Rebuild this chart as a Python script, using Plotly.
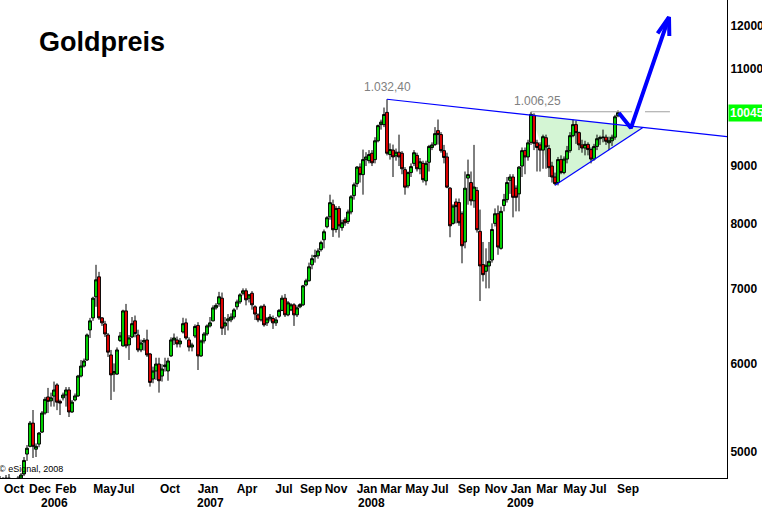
import numpy as np
import plotly.graph_objects as go

# Weekly gold candles (price in 1/10 USD, as on the chart axis), Sep 2005 - Sep 2009
opens = [4720, 4690, 4700, 4740, 4700, 4620, 4680, 4740, 4780, 4980,
         5060, 5307, 5030, 5083, 5210, 5418, 5600, 5555, 5610, 5740,
         5550, 5590, 5623, 5681, 5430, 5565, 5612, 5846, 5967, 6042,
         6427, 6588, 6880, 7168, 6588, 6507, 6361, 6105, 5870, 5870,
         6290, 6220, 6683, 6232, 6335, 6548, 6361, 6168, 6270, 6296,
         6117, 5810, 5907, 5992, 5846, 5960, 5907, 6093, 6296, 6296,
         6245, 6400, 6521, 6296, 6205, 6347, 6487, 6093, 6283, 6374,
         6480, 6548, 6725, 6780, 6860, 6480, 6548, 6561, 6600, 6740,
         6808, 6930, 6965, 6860, 6930, 6740, 6629, 6561, 6750, 6521,
         6575, 6580, 6521, 6610, 6690, 6860, 6629, 6697, 6767, 6629,
         6740, 6767, 7050, 7110, 7347, 7470, 7485, 7580, 7735, 7945,
         8110, 8313, 7900, 8250, 7930, 8060, 8030, 8190, 8470, 8680,
         8981, 8843, 9120, 9100, 9240, 9120, 9480, 9800, 9800, 10050,
         9215, 9300, 9190, 9260, 9240, 8934, 8640, 8880, 9050, 9200,
         8950, 9050, 8730, 9070, 9350, 9406, 9680, 9602, 9290, 9170,
         8600, 8000, 8360, 8350, 8160, 7700, 8780, 8700, 8380, 8560,
         7870, 7350, 7250, 7330, 7420, 8000, 8160, 7600, 8300, 8400,
         8740, 8800, 8600, 8500, 9000, 9290, 9170, 9450, 9990, 9440,
         9400, 9300, 9540, 9330, 9000, 8800, 8700, 9120, 8880, 9130,
         9290, 9580, 9800, 9640, 9400, 9340, 9410, 9310, 9130, 9370,
         9520, 9540, 9550, 9440, 9480, 9550, 9980]
highs = [4760, 4750, 4770, 4780, 4740, 4700, 4760, 4790, 4950, 5073,
         5330, 5452, 5090, 5210, 5440, 5600, 5705, 5650, 5780, 5760,
         5570, 5650, 5715, 5715, 5565, 5640, 5860, 6042, 6060, 6380,
         6588, 6880, 7347, 7242, 6600, 6548, 6387, 6168, 6000, 6200,
         6400, 6700, 6780, 6360, 6600, 6620, 6430, 6300, 6320, 6430,
         6130, 5960, 6070, 6070, 5990, 6070, 6070, 6330, 6380, 6340,
         6320, 6590, 6580, 6330, 6260, 6500, 6530, 6300, 6400, 6500,
         6600, 6760, 6790, 6950, 6940, 6600, 6640, 6650, 6720, 6840,
         6930, 7000, 7000, 6920, 6960, 6760, 6650, 6760, 6780, 6600,
         6640, 6620, 6600, 6710, 6900, 6920, 6820, 6790, 6790, 6760,
         6790, 7050, 7140, 7380, 7500, 7580, 7600, 7720, 7900, 8120,
         8486, 8400, 8290, 8290, 8060, 8100, 8230, 8480, 8700, 9000,
         9050, 9310, 9260, 9300, 9300, 9550, 9800, 9900, 10150, 10324,
         9430, 9406, 9330, 9600, 9280, 8980, 8900, 9050, 9300, 9250,
         9150, 9100, 9100, 9400, 9450, 9750, 9903, 9650, 9400, 9250,
         8620, 8320, 8420, 8420, 8200, 8900, 9120, 8900, 9400, 8620,
         8230, 7700, 7600, 7700, 8000, 8250, 8300, 8280, 8500, 8800,
         8850, 8850, 8650, 9000, 9350, 9350, 9500, 10062.5, 10030, 9500,
         9450, 9600, 9600, 9400, 9080, 8880, 9170, 9200, 9180, 9380,
         9650, 9900, 9880, 9660, 9500, 9480, 9450, 9350, 9420, 9600,
         9580, 9700, 9600, 9560, 9600, 10000, 10090]
lows = [4660, 4640, 4680, 4680, 4600, 4580, 4660, 4700, 4760, 4910,
        5050, 4940, 4950, 5050, 5200, 5400, 5418, 5490, 5490, 5450,
        5396, 5560, 5490, 5374, 5420, 5550, 5600, 5830, 5950, 6030,
        6322, 6548, 6740, 6561, 6480, 6335, 6080, 5565, 5660, 5860,
        6270, 6210, 6190, 6042, 6320, 6330, 6140, 6140, 6160, 6080,
        5720, 5760, 5800, 5650, 5780, 5900, 5790, 6080, 6230, 6200,
        6200, 6380, 6300, 6150, 6150, 6320, 5919, 6080, 6250, 6350,
        6460, 6540, 6700, 6740, 6361, 6361, 6420, 6530, 6570, 6700,
        6780, 6900, 6760, 6800, 6700, 6560, 6530, 6540, 6470, 6480,
        6540, 6440, 6480, 6590, 6680, 6600, 6610, 6680, 6480, 6600,
        6720, 6750, 7030, 7100, 7280, 7380, 7440, 7550, 7600, 7920,
        8060, 7780, 7850, 7770, 7880, 7960, 7990, 8150, 8400, 8620,
        8700, 8486, 9000, 9050, 9000, 9050, 9450, 9700, 9750, 9200,
        9120, 8800, 9100, 9000, 8850, 8486, 8600, 8800, 9000, 8900,
        8850, 8700, 8650, 8900, 9300, 9380, 9406, 9250, 9050, 8600,
        7775, 7980, 8000, 7960, 7370, 7600, 8313, 8300, 8260, 7850,
        6820, 7100, 7000, 7000, 7380, 7950, 7500, 7580, 8200, 8350,
        8500, 8100, 8200, 8200, 8800, 8850, 9100, 9400, 9300, 8900,
        8900, 8950, 8950, 8800, 8700, 8650, 8650, 8850, 8850, 9050,
        9250, 9550, 9420, 9300, 9250, 9200, 9200, 9050, 9100, 9300,
        9400, 9450, 9400, 9300, 9380, 9500, 9950]
closes = [4690, 4700, 4740, 4700, 4620, 4680, 4740, 4770, 4915, 5040,
          5307, 5060, 5060, 5200, 5418, 5573, 5550, 5590, 5681, 5540,
          5530, 5623, 5681, 5430, 5541, 5612, 5846, 5967, 6030, 6361,
          6548, 6860, 7124, 6588, 6521, 6374, 6140, 5860, 5900, 6168,
          6348, 6683, 6220, 6322, 6510, 6380, 6168, 6257, 6290, 6105,
          5770, 5907, 5992, 5790, 5931, 5980, 6030, 6296, 6322, 6245,
          6283, 6510, 6322, 6205, 6232, 6473, 6093, 6283, 6374, 6480,
          6521, 6725, 6760, 6880, 6450, 6521, 6575, 6600, 6697, 6808,
          6907, 6965, 6837, 6907, 6767, 6640, 6561, 6740, 6494, 6575,
          6600, 6521, 6561, 6690, 6860, 6629, 6795, 6767, 6629, 6725,
          6770, 7036, 7110, 7317, 7440, 7485, 7560, 7690, 7864, 8094,
          8348, 7896, 8250, 7960, 8010, 8010, 8190, 8450, 8662, 8981,
          8843, 9120, 9170, 9215, 9060, 9480, 9780, 9850, 10006, 9240,
          9310, 9170, 9260, 9170, 8950, 8618, 8880, 8990, 9250, 8950,
          9080, 8752, 9050, 9370, 9400, 9620, 9602, 9290, 9160, 8618,
          7960, 8290, 8280, 8010, 7640, 8600, 8843, 8380, 8620, 7896,
          7330, 7200, 7340, 7400, 7900, 8160, 7620, 8200, 8400, 8700,
          8800, 8440, 8440, 8980, 9290, 9170, 9440, 10010, 9430, 9350,
          9300, 9560, 9360, 8970, 8800, 8680, 9120, 8880, 9130, 9290,
          9580, 9800, 9640, 9400, 9340, 9410, 9310, 9130, 9370, 9520,
          9540, 9550, 9470, 9480, 9550, 9960, 10045]
weeks = list(range(len(opens)))

# Axis labels
month_labels = ["Oct", "Dec", "Feb", "May", "Jul", "Oct", "Jan", "Apr", "Jul", "Sep", "Nov",
                "Jan", "Mar", "May", "Jul", "Sep", "Nov", "Jan", "Mar", "May", "Jul", "Sep"]
month_label_weeks = [4.67, 13.33, 22.0, 35.0, 42.0, 56.67, 69.33, 82.33, 94.67, 103.67, 112.0,
                     122.33, 130.33, 139.0, 146.67, 156.33, 165.33, 173.67, 182.33, 191.67, 199.33, 209.33]
year_labels = ["2006", "2007", "2008", "2009"]
year_label_weeks = [18.33, 70.0, 123.67, 173.33]
price_ticks = [5000, 6000, 7000, 8000, 9000, 11000, 12000]
last_price = 10045

# Chart-analysis drawings (week index, price)
peak_2008 = (129, 10324.0)       # 1.032,40
peak_2009 = (177, 10062.5)       # 1.006,25
resistance_end = (242.33, 9560.0)
support_low = (185, 8650.0)
apex_week = 214.3
gray_level_segments = [(177, 210.7), (215.0, 223.3)]
forecast_weeks = [206.3, 210.3, 223.0]
forecast_prices = [10036, 9730, 12224]
arrowhead_weeks = [219.2, 223.0, 223.1]
arrowhead_prices = [11821, 12224, 11756]

x_range = [0, 242.33]
y_range = [4741, 12660]


def res_at(w):
    f = (w - peak_2008[0]) / (resistance_end[0] - peak_2008[0])
    return float(np.exp(np.log(peak_2008[1]) + f * (np.log(resistance_end[1]) - np.log(peak_2008[1]))))


FONT = "Liberation Sans, Arial, sans-serif"
BLUE = "#0000ff"

fig = go.Figure()

# triangle fill as a shape beneath the candles (shape coords are data values)
tri_x = [peak_2009[0], support_low[0], apex_week]
tri_y = [res_at(peak_2009[0]), support_low[1], res_at(apex_week)]
tri_path = "M {} {} L {} {} L {} {} Z".format(tri_x[0], tri_y[0], tri_x[1], tri_y[1], tri_x[2], tri_y[2])
shapes = [dict(type="path", path=tri_path, xref="x", yref="y", fillcolor="rgb(212,245,212)",
               line=dict(width=0), layer="below")]

fig.add_trace(go.Candlestick(
    x=weeks, open=opens, high=highs, low=lows, close=closes,
    increasing=dict(line=dict(color="black", width=1), fillcolor="#00e000"),
    decreasing=dict(line=dict(color="black", width=1), fillcolor="#ee0000"),
    whiskerwidth=0,
))

# gray horizontal level
for a, b in gray_level_segments:
    fig.add_trace(go.Scatter(x=[a, b], y=[peak_2009[1], peak_2009[1]], mode="lines",
                             line=dict(color="#a0a0a0", width=1), hoverinfo="skip"))

# resistance line
fig.add_trace(go.Scatter(x=[peak_2008[0], resistance_end[0]], y=[peak_2008[1], resistance_end[1]],
                         mode="lines", line=dict(color=BLUE, width=1.2), hoverinfo="skip"))
# support line
fig.add_trace(go.Scatter(x=[support_low[0], apex_week], y=[support_low[1], res_at(apex_week)],
                         mode="lines", line=dict(color=BLUE, width=1.2), hoverinfo="skip"))
# forecast arrow
fig.add_trace(go.Scatter(x=forecast_weeks, y=forecast_prices, mode="lines",
                         line=dict(color=BLUE, width=4), hoverinfo="skip"))
fig.add_trace(go.Scatter(x=arrowhead_weeks, y=arrowhead_prices, mode="lines",
                         line=dict(color=BLUE, width=4), hoverinfo="skip"))

annotations = []
for w, t in zip(year_label_weeks, year_labels):
    annotations.append(dict(x=w, xref="x", y=0, yref="paper", text=t, showarrow=False,
                            yanchor="middle", yshift=-25,
                            font=dict(family=FONT, size=12, color="black", weight="bold")))
annotations.append(dict(x=1, xref="paper", xanchor="left", xshift=1, y=np.log10(last_price), yref="y",
                        text=str(last_price), showarrow=False, bgcolor="#00ff00", borderpad=1,
                        font=dict(family=FONT, size=12, color="white", weight="bold")))
annotations.append(dict(x=37 / 727, xref="paper", xanchor="left", y=(478 - 42) / 478, yref="paper",
                        yanchor="middle", text="Goldpreis", showarrow=False,
                        font=dict(family=FONT, size=27, color="black", weight="bold")))
annotations.append(dict(x=0, xref="paper", xanchor="left", xshift=-3, y=(478 - 469) / 478, yref="paper",
                        yanchor="middle", text="© eSignal, 2008", showarrow=False,
                        font=dict(family=FONT, size=9, color="black")))
annotations.append(dict(x=peak_2008[0], y=np.log10(peak_2008[1]), xref="x", yref="y",
                        text="1.032,40", showarrow=False, yanchor="bottom", yshift=3,
                        font=dict(family=FONT, size=12, color="#808080")))
annotations.append(dict(x=peak_2009[0], y=np.log10(peak_2009[1]), xref="x", yref="y",
                        text="1.006,25", showarrow=False, yanchor="bottom", yshift=2, xshift=6,
                        font=dict(family=FONT, size=12, color="#808080")))

fig.update_layout(
    width=762, height=510,
    margin=dict(l=0, r=35, t=0, b=32, autoexpand=False),
    paper_bgcolor="white", plot_bgcolor="white",
    showlegend=False,
    boxgap=0.05, boxgroupgap=0,
    annotations=annotations,
    shapes=shapes,
    xaxis=dict(range=x_range, showgrid=False, zeroline=False, showline=True, linecolor="black",
               linewidth=1, ticks="", tickvals=month_label_weeks, ticktext=month_labels, tickangle=0,
               automargin=False,
               tickfont=dict(family=FONT, size=12, color="black", weight="bold"),
               rangeslider=dict(visible=False), fixedrange=True),
    yaxis=dict(type="log", range=[np.log10(y_range[0]), np.log10(y_range[1])], side="right",
               showgrid=False, zeroline=False, showline=True, linecolor="black", linewidth=1,
               ticks="", tickvals=price_ticks, ticktext=[str(v) for v in price_ticks], automargin=False,
               ticklabelstandoff=0,
               tickfont=dict(family=FONT, size=12, color="black", weight="bold")),
)

fig.write_html("out.html", config={"displayModeBar": False},
               post_script="document.body.style.margin='0px';")
